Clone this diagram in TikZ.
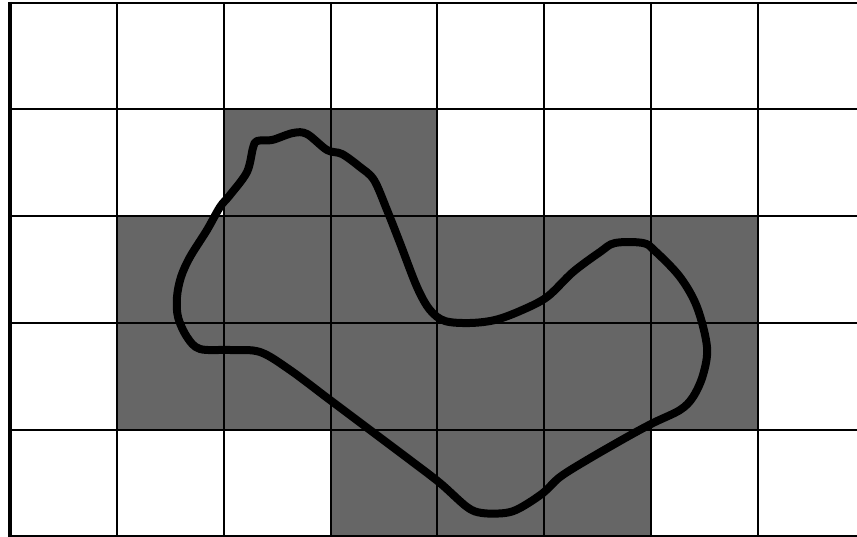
\documentclass[tikz,border=0pt]{standalone}
\definecolor{cellgray}{HTML}{666666}
\tikzset{
  gridline/.style={black, line width=2.6},
  cellfill/.style={fill=cellgray},
  blob/.style={black, line width=8, line join=round, line cap=round}
}
\begin{document}
\begin{tikzpicture}[x=1pt,y=-1pt]
\useasboundingbox[fill=white] (0,0) rectangle (857,537);
% gray cells
\fill[cellfill] (224,109) rectangle (437,216);
\fill[cellfill] (117,216) rectangle (758,430);
\fill[cellfill] (331,430) rectangle (651,536);
% grid
\foreach \x in {117,224,331,437,544,651,758}
  \draw[gridline] (\x,3) -- (\x,537);
\foreach \y in {3,109,216,323,430,536}
  \draw[gridline] (10,\y) -- (857,\y);
\draw[black, line width=3.5] (10,2) -- (10,537);
% closed curve
\draw[blob] plot[smooth cycle, tension=0.55] coordinates {
 (257,141) (272,140) (293,133) (307,134) (327,150) (342,154) (360,167) (374,180)
 (387,210) (400,243) (417,287) (430,310) (445,321) (470,323) (495,320) (520,311)
 (547,297) (573,272) (600,252) (615,243) (643,243) (655,251) (680,277) (697,307)
 (707,347) (703,375) (693,397) (680,410) (653,423) (627,437) (587,460) (560,477)
 (543,493) (520,508) (505,513) (482,513) (467,507) (440,483) (410,460) (370,430)
 (330,400) (290,370) (260,352) (230,350) (200,349) (187,337) (178,317) (177,297)
 (181,277) (190,257) (207,230) (220,207) (230,195) (247,172) (253,148)
};
\end{tikzpicture}
\end{document}
